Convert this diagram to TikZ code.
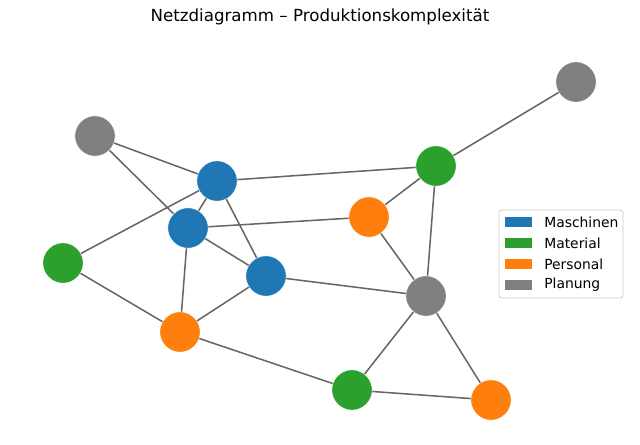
\documentclass[tikz,border=0pt]{standalone}
\usepackage{fontspec}
\setmainfont{DejaVu Sans}
\definecolor{tblue}{HTML}{1F77B4}
\definecolor{tgreen}{HTML}{2CA02C}
\definecolor{torange}{HTML}{FF7F0E}
\definecolor{tgray}{HTML}{808080}
\definecolor{edgec}{HTML}{666666}
\begin{document}
\begin{tikzpicture}[x=0.72pt,y=-0.72pt,
  nd/.style={circle,minimum size=29pt,inner sep=0pt,draw=white,line width=0.3pt},
  mas/.style={nd,fill=tblue},
  mat/.style={nd,fill=tgreen},
  per/.style={nd,fill=torange},
  pla/.style={nd,fill=tgray},
  ed/.style={draw=edgec,line width=1.1pt},
  patch/.style={minimum width=19.4pt,minimum height=7pt,inner sep=0pt},
  lbl/.style={anchor=west,inner sep=0pt,font=\fontsize{10}{12}\selectfont}]
\useasboundingbox (0,0) rectangle (640,444);
\node[font=\fontsize{12}{14}\selectfont] (title) at (320,17) {Netzdiagramm – Produktionskomplexität};
% nodes
\node[pla] (G1) at (95,136) {};
\node[pla] (G2) at (576,82) {};
\node[pla] (G3) at (426,296) {};
\node[mas] (B1) at (217,181) {};
\node[mas] (B2) at (188,228) {};
\node[mas] (B3) at (266,276) {};
\node[mat] (M1) at (436,166) {};
\node[mat] (M2) at (63,263) {};
\node[mat] (M3) at (352,390) {};
\node[per] (P1) at (369,217) {};
\node[per] (P2) at (180,332) {};
\node[per] (P3) at (491,400) {};
% edges
\foreach \a/\b in {G1/B1,G1/B2,B1/M1,M2/B1,B1/B2,B1/B3,B2/P1,B2/P2,B2/B3,B3/P2,B3/G3,M2/P2,P2/M3,M3/G3,M3/P3,G3/P3,G3/P1,G3/M1,M1/P1,M1/G2}
  \path[ed] (\a) -- (\b);
% legend
\draw[draw=black!20,fill=white,fill opacity=0.8,rounded corners=2pt,line width=0.6pt] (499,210) rectangle (623,298);
\node[patch,fill=tblue] (l1) at (518.5,222) {};
\node[patch,fill=tgreen] (l2) at (518.5,243) {};
\node[patch,fill=torange] (l3) at (518.5,264) {};
\node[patch,fill=tgray] (l4) at (518.5,285) {};
\node[lbl] (t1) at (544,222) {Maschinen};
\node[lbl] (t2) at (544,243) {Material};
\node[lbl] (t3) at (544,264) {Personal};
\node[lbl] (t4) at (544,285) {Planung};
\end{tikzpicture}
\end{document}
